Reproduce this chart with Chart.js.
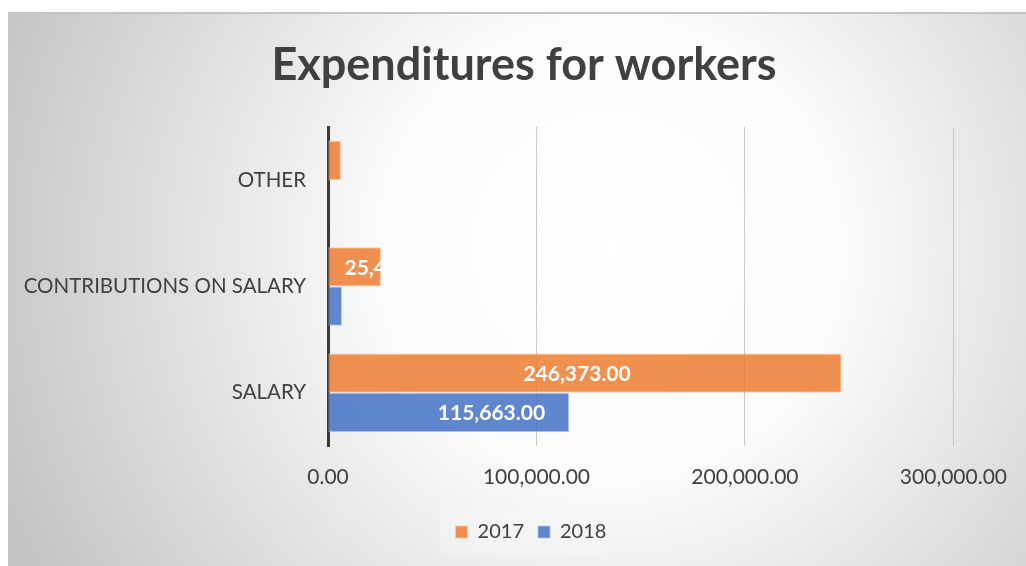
<!DOCTYPE html>
<html>
<head>
<meta charset="utf-8">
<script src="https://cdn.jsdelivr.net/npm/chart.js@4"></script>
<style>
  html, body { margin: 0; padding: 0; background: #fff; }
  #wrap { width: 1026px; height: 566px; }
</style>
</head>
<body>
<div id="wrap"><canvas id="grafico" width="1026" height="566"></canvas></div>
<script>
const categorias = ['OTHER', 'CONTRIBUTIONS ON SALARY', 'SALARY'];
const anos = ['2017', '2018'];
const valores2017 = [6200, 25412, 246373];
const valores2018 = [null, 6700, 115663];
const ticksX = [0, 100000, 200000, 300000];

const fmt = v => v.toLocaleString('en-US', { minimumFractionDigits: 2, maximumFractionDigits: 2 });
const FONTE = 'Lato, "Open Sans", sans-serif';

// fundo cinza com brilho ao centro + título
const fundo = {
  id: 'fundo',
  afterLayout(chart) {
    // legenda centrada na caixa do gráfico, não na área útil
    const lg = chart.legend;
    if (lg) { lg.left += 42; lg.right += 42; }
  },
  beforeDraw(chart) {
    const c = chart.ctx;
    c.save();
    const g = c.createRadialGradient(610, 250, 0, 610, 250, 660);
    g.addColorStop(0, '#ffffff');
    g.addColorStop(0.35, '#fbfbfb');
    g.addColorStop(1, '#c3c3c3');
    c.fillStyle = g;
    c.fillRect(8, 12, 1018, 554);
    c.fillStyle = '#c4c4c4';
    c.fillRect(8, 12, 1018, 2);
    c.fillStyle = '#404040';
    c.font = 'bold 45px ' + FONTE;
    c.textAlign = 'center';
    c.textBaseline = 'middle';
    c.fillText('Expenditures for workers', 524, 65);
    // caixa clara da legenda
    c.fillStyle = 'rgba(255,255,255,0.2)';
    c.fillRect(440, 510, 166, 44);
    c.restore();
  }
};

// rótulos brancos dentro das barras
const rotulos = {
  id: 'rotulos',
  afterDatasetsDraw(chart) {
    const c = chart.ctx;
    c.save();
    c.font = 'bold 21px ' + FONTE;
    c.fillStyle = '#ffffff';
    c.textBaseline = 'middle';
    chart.data.datasets.forEach((ds, di) => {
      chart.getDatasetMeta(di).data.forEach((bar, i) => {
        const v = ds.data[i];
        if (v == null) return;
        const txt = fmt(v);
        const w = c.measureText(txt).width;
        const x0 = bar.base, x1 = bar.x;
        const top = bar.y - bar.height / 2;
        c.save();
        c.beginPath();
        c.rect(x0, top, x1 - x0, bar.height);
        c.clip();
        if (w + 30 > x1 - x0) {
          c.textAlign = 'left';
          c.fillText(txt, x0 + 16, bar.y + 1);
        } else if (di === 0) {
          c.textAlign = 'center';
          c.fillText(txt, (x0 + x1) / 2 - 8, bar.y + 1);
        } else {
          c.textAlign = 'right';
          c.fillText(txt, x1 - 24, bar.y + 1);
        }
        c.restore();
      });
    });
    c.restore();
  }
};

new Chart(document.getElementById('grafico').getContext('2d'), {
  type: 'bar',
  data: {
    labels: categorias,
    datasets: [
      { label: anos[0], data: valores2017, backgroundColor: 'rgba(237,125,49,0.85)', borderColor: 'rgba(250,200,170,0.9)', borderWidth: 1, borderSkipped: false },
      { label: anos[1], data: valores2018, backgroundColor: 'rgba(68,114,196,0.85)', borderColor: 'rgba(170,195,235,0.9)', borderWidth: 1, borderSkipped: false }
    ]
  },
  plugins: [fundo, rotulos],
  options: {
    indexAxis: 'y',
    responsive: false,
    animation: false,
    categoryPercentage: 0.74,
    barPercentage: 1,
    layout: { padding: { left: 20, right: 68, top: 127, bottom: 14 } },
    plugins: {
      legend: {
        position: 'bottom',
        labels: {
          color: '#404040',
          font: { family: FONTE, size: 20 },
          boxWidth: 12, boxHeight: 12, padding: 14,
          generateLabels(chart) {
            return chart.data.datasets.map((ds, i) => ({
              text: ds.label, fillStyle: ds.backgroundColor, strokeStyle: ds.borderColor,
              lineWidth: 1, hidden: false, datasetIndex: i, fontColor: '#404040'
            }));
          }
        }
      },
      title: { display: false },
      tooltip: { enabled: false }
    },
    scales: {
      x: {
        min: 0, max: 300000,
        afterBuildTicks(scale) { scale.ticks = ticksX.map(v => ({ value: v })); },
        afterFit(scale) { scale.height = 62; },
        grid: { color: '#c8c8c8', lineWidth: 1, drawTicks: false },
        border: { display: false },
        ticks: { color: '#404040', font: { family: FONTE, size: 21 }, padding: 19, callback: v => fmt(v) }
      },
      y: {
        afterFit(scale) { scale.width = 308; },
        grid: { display: false, drawTicks: false },
        border: { display: true, color: '#3a3a3a', width: 3 },
        ticks: { color: '#404040', font: { family: FONTE, size: 20.5 }, padding: 22 }
      }
    }
  }
});
</script>
</body>
</html>
